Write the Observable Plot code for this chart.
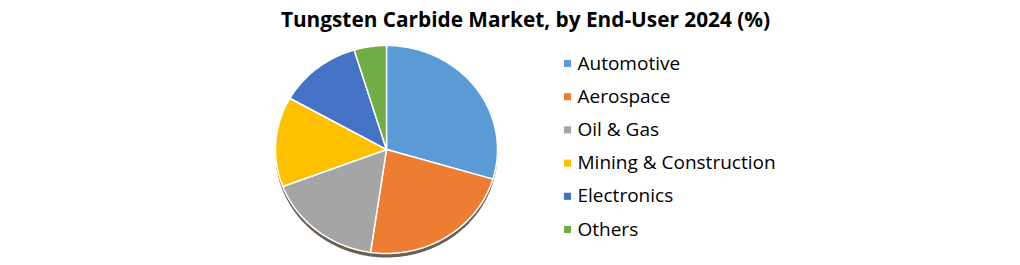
<!DOCTYPE html>
<html>
<head>
<meta charset="utf-8">
<script src="https://cdn.jsdelivr.net/npm/d3@7"></script>
<script src="https://cdn.jsdelivr.net/npm/@observablehq/plot@0.6"></script>
<style>
  html, body { margin: 0; padding: 0; background: #fff; }
  #chart { width: 1020px; height: 265px; }
</style>
</head>
<body>
<div id="chart"></div>
<script>
const title = "Tungsten Carbide Market, by End-User 2024 (%)";
const categories = ["Automotive", "Aerospace", "Oil & Gas", "Mining & Construction", "Electronics", "Others"];
const shares = [29.6, 22.7, 16.9, 14.0, 12.1, 4.7];
const colors = ["#5B9BD5", "#ED7D31", "#A5A5A5", "#FFC000", "#4472C4", "#70AD47"];

const W = 1020, H = 265;
const cx = 386, cy = 149, rx = 111, ry = 104;

const pie = d3.pie().sort(null).value(d => d)(shares);
const slicePts = [];
const shadowPts = [];
pie.forEach((p, i) => {
  const pts = [[cx, cy]];
  const n = Math.max(4, Math.ceil((p.endAngle - p.startAngle) * 60));
  for (let k = 0; k <= n; k++) {
    const a = p.startAngle + (p.endAngle - p.startAngle) * k / n;
    pts.push([cx + rx * Math.sin(a), cy - ry * Math.cos(a)]);
  }
  pts.push([cx, cy]);
  pts.forEach(([x, y]) => {
    slicePts.push({x, y, cat: categories[i]});
    shadowPts.push({x, y: y + 4, cat: categories[i]});
  });
});

const legend = categories.map((c, i) => ({cat: c, x: 567, y: 63 + i * 33.2}));

const plot = Plot.plot({
  width: W, height: H,
  margin: 0,
  x: {domain: [0, W], range: [0, W], axis: null},
  y: {domain: [0, H], range: [0, H], axis: null},
  color: {domain: categories, range: colors},
  style: {fontFamily: "'Open Sans', sans-serif", background: "#fff"},
  marks: [
    Plot.line(shadowPts, {x: "x", y: "y", z: "cat", fill: "#3a2a1a", fillOpacity: 0.75, stroke: "none"}),
    Plot.line(slicePts, {x: "x", y: "y", z: "cat", fill: "cat", stroke: "#fff", strokeWidth: 1.5, strokeLinejoin: "round"}),
    Plot.dot(legend, {x: "x", y: "y", fill: "cat", symbol: "square", r: 4}),
    Plot.text(legend, {x: d => d.x + 10, y: "y", text: "cat", textAnchor: "start", fontSize: 19, fill: "#000"}),
    Plot.text([title], {x: [525], y: [20], text: d => d, fontSize: 20.8, fontWeight: "bold", fill: "#000"})
  ]
});
document.getElementById("chart").append(plot);
</script>
</body>
</html>
